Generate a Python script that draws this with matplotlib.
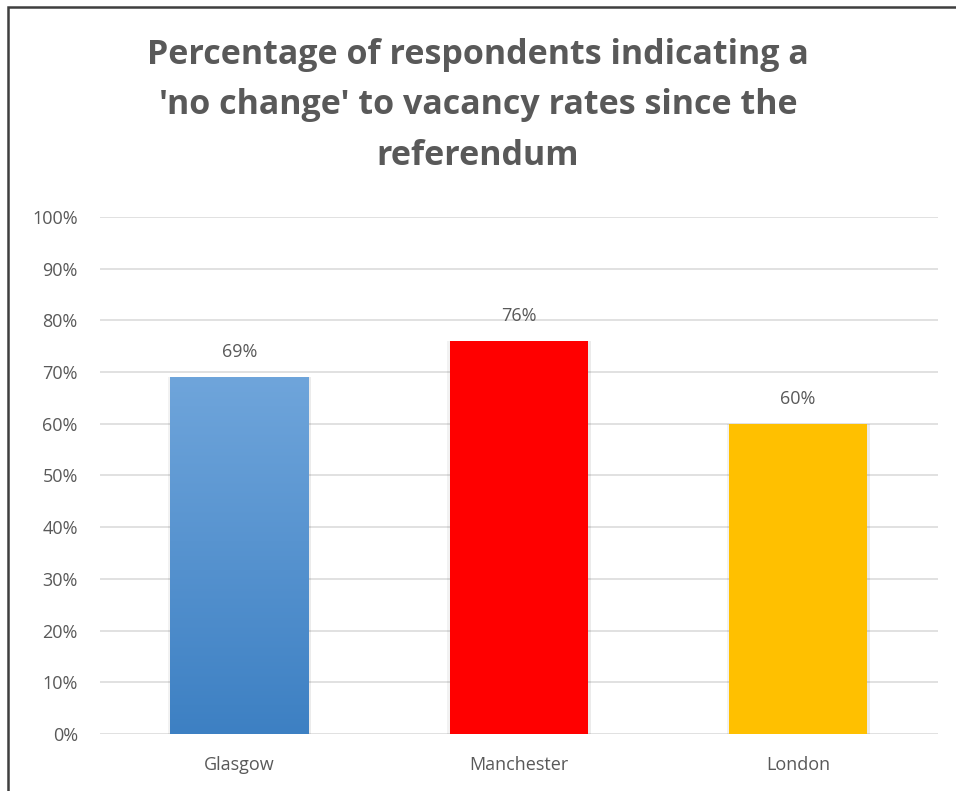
import matplotlib
matplotlib.use("Agg")
import matplotlib.pyplot as plt
from matplotlib.patches import Rectangle
from matplotlib.colors import LinearSegmentedColormap
import numpy as np

# Survey results
cities = ["Glasgow", "Manchester", "London"]
no_change_pct = [69, 76, 60]
bar_colors = ["#5b9bd5", "#ff0000", "#ffc000"]
y_ticks = [0, 10, 20, 30, 40, 50, 60, 70, 80, 90, 100]

text_gray = "#595959"
plt.rcParams["font.family"] = ["Open Sans", "DejaVu Sans"]

fig = plt.figure(figsize=(9.56, 7.91), dpi=100)
ax = fig.add_axes([0.1046, 0.0721, 0.8761, 0.6536])

x = np.arange(len(cities))
width = 0.495

# soft shadow around the bars
for dx, a in [(0.006, 0.08), (-0.004, 0.05)]:
    ax.bar(x + dx, no_change_pct, width=width + 0.008, color="black", alpha=a,
           zorder=2, linewidth=0)

bars = ax.bar(x, no_change_pct, width=width, color=bar_colors, zorder=3, linewidth=0)

# vertical gradient on the Glasgow bar
g = bars[0]
g.set_facecolor("#5b9bd5")
grad = np.linspace(0, 1, 256).reshape(-1, 1)
cmap = LinearSegmentedColormap.from_list("blu", ["#3d80c3", "#6fa5db"])
im = ax.imshow(grad, cmap=cmap, aspect="auto", origin="lower", zorder=4,
               extent=[g.get_x(), g.get_x() + g.get_width(), 0, g.get_height()])
im.set_clip_path(g)

for b, v in zip(bars, no_change_pct):
    ax.text(b.get_x() + b.get_width() / 2, v + 4.8, f"{v}%", ha="center",
            va="center", fontsize=13, color=text_gray)

ax.set_xlim(-0.5, len(cities) - 0.5)
ax.set_ylim(0, 100)
ax.set_yticks(y_ticks)
ax.set_yticklabels([f"{t}%" for t in y_ticks])
ax.set_xticks(x)
ax.set_xticklabels(cities)
ax.tick_params(axis="both", length=0, labelsize=13, labelcolor=text_gray)
ax.tick_params(axis="y", pad=16)
ax.tick_params(axis="x", pad=16)
ax.grid(axis="y", color="#d9d9d9", linewidth=1.1, zorder=0)
ax.set_axisbelow(True)
for s in ax.spines.values():
    s.set_visible(False)

fig.text(0.5, 0.867, "Percentage of respondents indicating a\n'no change' to vacancy rates since the\nreferendum",
         ha="center", va="center", fontsize=24.5, fontweight="bold", color=text_gray,
         linespacing=1.64)

# outer frame
fig.add_artist(Rectangle((8 / 956, -0.1), 1.2, 1 - 7 / 791 + 0.1, transform=fig.transFigure,
                         fill=False, edgecolor="#3f3f3f", linewidth=1.8))

fig.savefig("out.png", dpi=100)
